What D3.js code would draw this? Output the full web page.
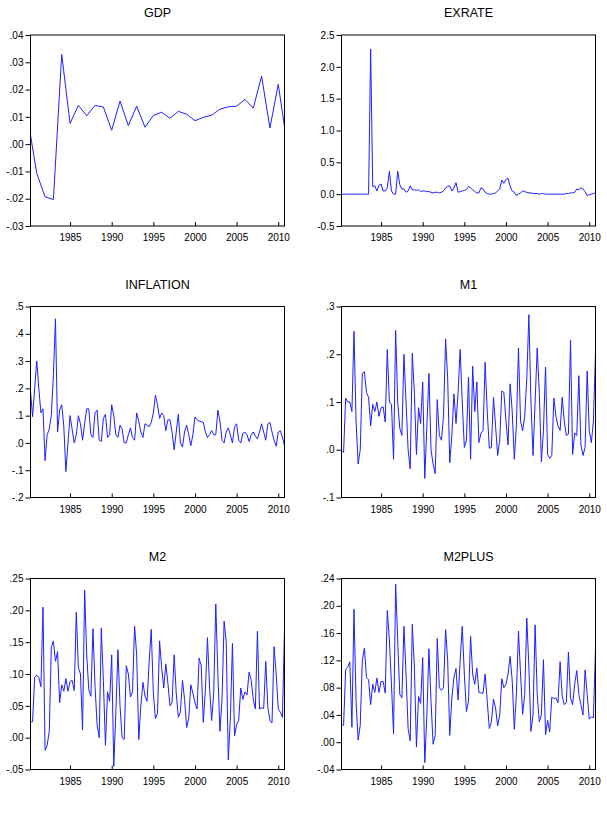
<!DOCTYPE html>
<html>
<head>
<meta charset="utf-8">
<script src="https://cdn.jsdelivr.net/npm/d3@7"></script>
<style>
  body { margin: 0; background: #fff; }
  svg { display: block; font-family: "Liberation Sans", Arial, sans-serif; }
</style>
</head>
<body>
<div id="chart"></div>
<script>
// sample: 1980Q2 - 2010Q4, quarterly
const startYear = 1980, startQuarter = 2, endYear = 2010, endQuarter = 4;
const tickYears = [1985, 1990, 1995, 2000, 2005, 2010];

// GDP is annual, drawn at Q1 of each year (plus the sample ends)
const gdpDates = ["1980Q2"].concat(d3.range(1981, 2011).map(y => y + "Q1"), ["2010Q4"]);
const gdp = [0.0033, -0.0107, -0.0193, -0.0203, 0.0329, 0.0076, 0.0142, 0.0104, 0.0142, 0.0136,
  0.0051, 0.0158, 0.0068, 0.0139, 0.0062, 0.0105, 0.0117, 0.0095, 0.012, 0.011,
  0.0086, 0.0098, 0.0106, 0.0128, 0.0137, 0.0139, 0.0164, 0.0132, 0.0249, 0.0059,
  0.0219, 0.0064];

const exrate = [0, 0, 0, 0, 0, 0, 0, 0, 0, 0, 0, 0, 0, 0,
  2.28, 0.12, 0.13, 0.05, 0.14, 0.16, 0.05, 0.05, 0.1, 0.36,
  0.05, 0.0, 0.0, 0.36, 0.15, 0.08, 0.08, 0.03, 0.05, 0.13,
  0.07, 0.07, 0.06, 0.07, 0.04, 0.05, 0.05, 0.04, 0.04, 0.03,
  0.02, 0.03, 0.03, 0.02, 0.03, 0.05, 0.1, 0.12, 0.13, 0.05,
  0.1, 0.18, 0.03, 0.04, 0.05, 0.06,
  0.07, 0.12, 0.1, 0.07, 0.04, 0.02, 0.02, 0.1, 0.08, 0.03,
  0.01, 0.0, 0.0, 0.01, 0.02, 0.05, 0.08, 0.22, 0.17, 0.23,
  0.25, 0.12, 0.05, 0.03, -0.02, 0.0, 0.02, 0.05, 0.04, 0.03,
  0.02, 0.02, 0.01, 0.01, 0.01, 0.0, 0.01, 0.01, 0.0, 0.0,
  0.0, 0.0, 0.0, 0.0, 0.0, 0.0, 0.0, 0.0, 0.01, 0.01,
  0.02, 0.02, 0.03, 0.08, 0.07, 0.1, 0.08, 0.04, -0.02, -0.01,
  0.0, 0.01, 0.02];

const inflation = [0.19, 0.096, 0.2, 0.30, 0.2, 0.11, 0.125, -0.065, 0.03, 0.05,
  0.1, 0.25, 0.455, 0.04, 0.12, 0.14, 0.06, -0.105, 0.0, 0.1,
  0.05, 0.0, 0.03, 0.1, 0.07, 0.01, 0.07, 0.125, 0.125, 0.03,
  0.02, 0.11, 0.12, 0.01, 0.005, 0.09, 0.105, 0.02, 0.03, 0.14,
  0.1, 0.03, 0.02, 0.065, 0.05, 0.0, 0.0, 0.03, 0.055, 0.02,
  0.01, 0.11, 0.08, 0.04, 0.02, 0.07, 0.065, 0.06, 0.075, 0.11,
  0.175, 0.14, 0.09, 0.11, 0.1, 0.045,
  0.085, 0.085, 0.04,
  -0.025, 0.04, 0.105, 0.0, -0.015, 0.04, 0.065, 0.03, -0.01, 0.03,
  0.095, 0.085, 0.08, 0.078, 0.075, 0.04, 0.02, 0.03, 0.045, 0.03,
  0.03, 0.12, 0.08, 0.01, 0.0, 0.04, 0.055, 0.03, 0.0, 0.06,
  0.07, 0.01, 0.0, 0.035, 0.04, 0.03, 0.005, 0.03, 0.04, 0.025,
  0.015, 0.04, 0.07, 0.04, 0.01, 0.07, 0.075, 0.04, 0.01, -0.012,
  0.04, 0.045, 0.02, -0.01];

const m1 = [-0.003, -0.005, 0.108, 0.1, 0.1, 0.08, 0.248, 0.06, -0.03, 0.0,
  0.16, 0.163, 0.12, 0.11, 0.05, 0.095, 0.08, 0.1, 0.07, 0.088,
  0.09, 0.058, 0.21, 0.1, 0.095, -0.02, 0.25, 0.1, 0.045, 0.03,
  0.2, 0.1, 0.0, -0.04, 0.202, 0.12, -0.01, 0.088, 0.055, 0.142,
  -0.06, 0.05, 0.16, 0.0, -0.03, -0.05, 0.105, 0.03, 0.02, 0.07,
  0.232, 0.15, -0.027, 0.03, 0.117, 0.055,
  0.12, 0.21, 0.1,
  0.005, 0.02, 0.152, -0.02, 0.175, 0.08, 0.142, 0.015, 0.035, 0.04,
  0.183, 0.08, 0.003, 0.005, 0.11, 0.05, -0.012, 0.02, 0.123, 0.12,
  0.06, 0.01, 0.138, 0.08, -0.02, 0.05, 0.213, 0.06, 0.04, 0.07,
  0.15, 0.283, 0.1, -0.012, 0.1, 0.213, 0.12, -0.025, 0.04, 0.173,
  -0.01, -0.018, -0.012, 0.108, 0.07, 0.05, 0.04, 0.11, 0.06, 0.03,
  0.033, 0.23, -0.01, 0.035, 0.03, 0.155, 0.01, -0.012, 0.005, 0.165,
  0.04, 0.015, 0.06, 0.205];

const m2 = [0.025, 0.025, 0.095, 0.098, 0.095, 0.08, 0.205, -0.02, -0.012, 0.01,
  0.142, 0.152, 0.12, 0.135, 0.055, 0.083, 0.073, 0.093, 0.073, 0.088,
  0.09, 0.074, 0.197, 0.11, 0.1, 0.012, 0.232, 0.13, 0.075, 0.065,
  0.171, 0.08, 0.02, 0.0, 0.172, 0.09, -0.012, 0.072, 0.057, 0.13,
  -0.045, 0.04, 0.138, 0.05, 0.0, -0.003, 0.113, 0.1, 0.064, 0.072,
  0.175, 0.13, -0.003, 0.05, 0.087, 0.065, 0.057, 0.12, 0.17, 0.07,
  0.03, 0.038, 0.152, 0.11, 0.078,
  0.116, 0.085, 0.05, 0.055,
  0.13, 0.07, 0.032, 0.04, 0.09, 0.06, 0.016, 0.03, 0.083, 0.07,
  0.055, 0.045, 0.125, 0.113, 0.024, 0.075, 0.157, 0.08, 0.027, 0.07,
  0.21, 0.1, 0.01, 0.06, 0.183, 0.15, -0.035, 0.03, 0.148, 0.003,
  0.02, 0.027, 0.078, 0.06, 0.072, 0.067, 0.103, 0.09, 0.06, 0.045,
  0.167, 0.045, 0.047, 0.046, 0.12, 0.047, 0.027, 0.023, 0.143, 0.1,
  0.045, 0.04, 0.032, 0.17];

const m2plus = [0.025, 0.025, 0.107, 0.11, 0.118, 0.022, 0.195, 0.06, 0.003, 0.025,
  0.12, 0.138, 0.095, 0.092, 0.055, 0.085, 0.073, 0.094, 0.073, 0.089,
  0.089, 0.072, 0.193, 0.15, 0.085, 0.012, 0.232, 0.15, 0.07, 0.065,
  0.17, 0.1, 0.02, 0.002, 0.173, 0.11, -0.007, 0.067, 0.057, 0.124,
  -0.03, 0.04, 0.137, 0.06, -0.003, 0.01, 0.152, 0.08, 0.076, 0.08,
  0.165, 0.12, 0.01, 0.065, 0.095, 0.108, 0.062, 0.12, 0.17, 0.1,
  0.045, 0.06, 0.155, 0.1, 0.085,
  0.109, 0.073, 0.072, 0.072,
  0.1, 0.06, 0.02, 0.03, 0.063, 0.05, 0.024, 0.04, 0.093, 0.08,
  0.085, 0.1, 0.126, 0.09, 0.019, 0.07, 0.163, 0.1, 0.041, 0.07,
  0.182, 0.11, 0.016, 0.04, 0.172, 0.07, 0.03, 0.04, 0.121, 0.011,
  0.032, 0.015, 0.066, 0.064, 0.065, 0.058, 0.118, 0.068, 0.055, 0.058,
  0.132, 0.065, 0.055, 0.085, 0.105, 0.07, 0.055, 0.04, 0.106, 0.07,
  0.034, 0.037, 0.036, 0.138];

// y-axis tick values
const gdpTicks = [-0.03, -0.02, -0.01, 0, 0.01, 0.02, 0.03, 0.04];
const exrateTicks = [-0.5, 0, 0.5, 1.0, 1.5, 2.0, 2.5];
const inflationTicks = [-0.2, -0.1, 0, 0.1, 0.2, 0.3, 0.4, 0.5];
const m1Ticks = [-0.1, 0, 0.1, 0.2, 0.3];
const m2Ticks = [-0.05, 0, 0.05, 0.10, 0.15, 0.20, 0.25];
const m2plusTicks = [-0.04, 0, 0.04, 0.08, 0.12, 0.16, 0.20, 0.24];

const qIndex = s => +s.slice(0, 4) * 4 + (+s.slice(5) - 1);
const firstQ = startYear * 4 + startQuarter - 1;
const lastQ = endYear * 4 + endQuarter - 1;
const quarterly = vals => vals.map((v, i) => ({ q: firstQ + i, v: v }));

// plain hyphen minus, and EViews style ".04", "-.01"
const plain = f => d => f(d).replace("\u2212", "-");
const noLead = f => d => plain(f)(d).replace(/^(-?)0\./, "$1.");

const panels = [
  { title: "GDP", data: gdp.map((v, i) => ({ q: qIndex(gdpDates[i]), v: v })), ticks: gdpTicks, fmt: noLead(d3.format(".2f")) },
  { title: "EXRATE", data: quarterly(exrate), ticks: exrateTicks, fmt: plain(d3.format(".1f")) },
  { title: "INFLATION", data: quarterly(inflation), ticks: inflationTicks, fmt: noLead(d3.format(".1f")) },
  { title: "M1", data: quarterly(m1), ticks: m1Ticks, fmt: noLead(d3.format(".1f")) },
  { title: "M2", data: quarterly(m2), ticks: m2Ticks, fmt: noLead(d3.format(".2f")) },
  { title: "M2PLUS", data: quarterly(m2plus), ticks: m2plusTicks, fmt: noLead(d3.format(".2f")) }
];

const width = 607, height = 814;
const colX = [30.5, 341.5], plotW = 254;
const rowY = [35, 306.5, 578.5], plotH = 191;

const svg = d3.select("#chart").append("svg")
  .attr("width", width)
  .attr("height", height);

panels.forEach((p, i) => {
  const x0 = colX[i % 2], y0 = rowY[Math.floor(i / 2)];
  const g = svg.append("g").attr("transform", `translate(${x0},${y0})`);

  const x = d3.scaleLinear().domain([firstQ, lastQ]).range([0, plotW]);
  const y = d3.scaleLinear().domain(d3.extent(p.ticks)).range([plotH, 0]);

  g.append("clipPath").attr("id", "clip" + i)
    .append("rect").attr("width", plotW).attr("height", plotH);

  g.append("path")
    .datum(p.data)
    .attr("clip-path", `url(#clip${i})`)
    .attr("fill", "none")
    .attr("stroke", "#1f1fff")
    .attr("stroke-width", 1)
    .attr("stroke-linejoin", "round")
    .attr("d", d3.line().x(d => x(d.q)).y(d => y(d.v)));

  // y axis: ticks outside, left
  const yAxis = g.append("g")
    .call(d3.axisLeft(y).tickValues(p.ticks).tickFormat(p.fmt).tickSize(5).tickPadding(2));
  yAxis.select(".domain").remove();
  yAxis.selectAll("line").attr("stroke", "#000");
  yAxis.selectAll("text").attr("font-size", 10).attr("fill", "#000")
    .attr("font-family", "'Liberation Sans', Arial, sans-serif");

  // x axis: ticks inside, bottom
  const xAxis = g.append("g")
    .attr("transform", `translate(0,${plotH})`)
    .call(d3.axisBottom(x).tickValues(tickYears.map(yr => yr * 4)).tickFormat(d => d / 4)
      .tickSize(-4).tickPadding(8));
  xAxis.select(".domain").remove();
  xAxis.selectAll("line").attr("stroke", "#000");
  xAxis.selectAll("text").attr("font-size", 10).attr("fill", "#000")
    .attr("font-family", "'Liberation Sans', Arial, sans-serif");

  g.append("rect")
    .attr("width", plotW).attr("height", plotH)
    .attr("fill", "none")
    .attr("stroke", "#000")
    .attr("stroke-width", 1);

  g.append("text")
    .attr("x", plotW / 2).attr("y", -18)
    .attr("text-anchor", "middle")
    .attr("font-size", 12.5)
    .text(p.title);
});
</script>
</body>
</html>
